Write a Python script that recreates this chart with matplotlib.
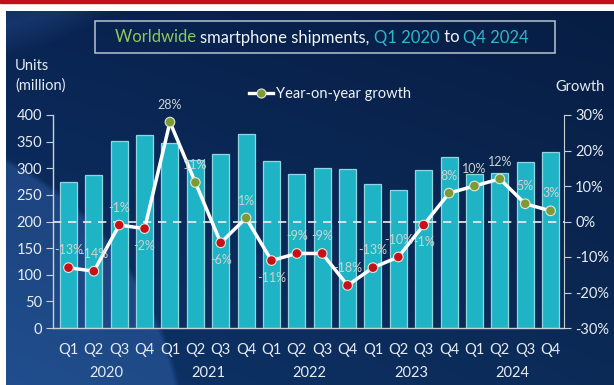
import matplotlib
matplotlib.use('Agg')
import matplotlib.pyplot as plt
import numpy as np
from matplotlib.lines import Line2D

plt.rcParams['font.family'] = ['Lato', 'DejaVu Sans']

# quarterly shipments (million units) and YoY growth (%)
quarters = ['Q1', 'Q2', 'Q3', 'Q4'] * 5
years = ['2020', '2021', '2022', '2023', '2024']
shipments = [274, 287, 351, 362, 348, 315, 327, 365,
             313, 289, 300, 298, 271, 260, 296, 321,
             289, 291, 312, 330]
growth = [-13, -14, -1, -2, 28, 11, -6, 1,
          -11, -9, -9, -18, -13, -10, -1, 8,
          10, 12, 5, 3]
# label above (1) or below (-1) the point
label_side = [1, 1, 1, -1, 1, 1, -1, 1,
              -1, 1, 1, 1, 1, 1, -1, 1,
              1, 1, 1, 1]

W, H = 614, 385
fig = plt.figure(figsize=(W / 100, H / 100), dpi=100)
fig.patch.set_facecolor('white')

# red strip on top
fig.patches.append(plt.Rectangle((0, 1 - 3 / H), 1, 3 / H, transform=fig.transFigure,
                                 color='#c0101a', zorder=0))

# dark blue panel with lighter swooshes
bg = fig.add_axes([6 / W, 0, 1 - 6 / W, 1 - 11 / H])
bg.set_axis_off()
ph, pw = 374, 608
yy, xx = np.mgrid[0:ph, 0:pw].astype(float)
top = np.array([9, 36, 82]) / 255
bot = np.array([14, 52, 106]) / 255
t = (yy / ph)[..., None]
img = top * (1 - t) + bot * t
# darker right side
img *= (1 - 0.18 * (xx / pw))[..., None]
# large light circle lower left
d = np.sqrt((xx + 150) ** 2 + (yy - 440) ** 2)
m = np.clip((330 - d) / 6, 0, 1)[..., None]
img = img * (1 - m) + (img + np.array([0.07, 0.10, 0.14])) * m
# upper-left arc highlight
d2 = np.sqrt((xx + 60) ** 2 + (yy + 260) ** 2)
m2 = np.clip((310 - d2) / 30, 0, 1)[..., None] * np.clip((d2 - 240) / 40, 0, 1)[..., None]
img = img + m2 * np.array([0.05, 0.07, 0.10])
bg.imshow(np.clip(img, 0, 1), aspect='auto', extent=(0, 1, 0, 1))
bg.set_xlim(0, 1)
bg.set_ylim(0, 1)

ax = fig.add_axes([53 / W, 57 / H, 511 / W, 213 / H])
ax.patch.set_alpha(0)
x = np.arange(len(shipments))
ax.bar(x, shipments, width=0.67, color='#1fb3c6', edgecolor='#8fd6df', linewidth=0.9, zorder=2)
ax.set_xlim(-0.61, 19.53)
ax.set_ylim(0, 400)
ax.set_yticks(range(0, 401, 50))
ax.set_xticks(x)
ax.set_xticklabels(quarters)
ax.tick_params(axis='x', length=0, pad=11, labelsize=10.5, labelcolor='#e6ecf2')
ax.tick_params(axis='y', length=5, color='#c8d0d8', labelsize=10.5, labelcolor='#e6ecf2', pad=3)
for s in ['top', 'right']:
    ax.spines[s].set_visible(False)
for s in ['left', 'bottom']:
    ax.spines[s].set_color('#c8d0d8')
    ax.spines[s].set_linewidth(1)

for i, yr in enumerate(years):
    ax.text(4 * i + 1.5, -0.21, yr, transform=ax.get_xaxis_transform(),
            ha='center', va='center', fontsize=10.5, color='#e6ecf2')

ax2 = ax.twinx()
ax2.set_ylim(-30, 30)
ax2.set_yticks(range(-30, 31, 10))
ax2.set_yticklabels([f'{v}%' for v in range(-30, 31, 10)])
ax2.tick_params(axis='y', length=5, color='#c8d0d8', labelsize=10.5, labelcolor='#e6ecf2', pad=3)
for s in ['top', 'left', 'bottom']:
    ax2.spines[s].set_visible(False)
ax2.spines['right'].set_color('#c8d0d8')

ax2.axhline(0, color='#e8eef4', lw=1.2, ls=(0, (5, 4)), zorder=3)
ax2.plot(x, growth, color='white', lw=2.5, zorder=4, solid_joinstyle='round')
pt_colors = ['#7e9a35' if g > 0 else '#c8101a' for g in growth]
ax2.scatter(x, growth, s=48, c=pt_colors, edgecolors='#e4e6d6', linewidths=0.8, zorder=5)
for xi, g, side in zip(x, growth, label_side):
    ax2.annotate(f'{g}%', (xi, g), xytext=(0, 12.5 * side), textcoords='offset points',
                 ha='center', va='center', fontsize=9, color='#cbd3cf', zorder=6)

handle = Line2D([], [], color='white', lw=2.4, marker='o', markersize=6.5,
                markerfacecolor='#7e9a35', markeredgecolor='#e4e6d6', markeredgewidth=0.8)
leg = fig.legend([handle], ['Year-on-year growth'], loc='center',
                 bbox_to_anchor=(330 / W, 1 - 94 / H), frameon=False,
                 fontsize=10.5, handlelength=1.6, handletextpad=0.2)
for txt in leg.get_texts():
    txt.set_color('#f0f4f8')

fig.text(15 / W, 1 - 66 / H, 'Units', fontsize=10.5, color='#e6ecf2', va='center')
fig.text(15 / W, 1 - 86 / H, '(million)', fontsize=10.5, color='#e6ecf2', va='center')
fig.text(605 / W, 1 - 87 / H, 'Growth', fontsize=10.5, color='#e6ecf2', va='center', ha='right')

# title box with coloured parts
fig.patches.append(plt.Rectangle((95 / W, 1 - 53 / H), 460 / W, 32 / H, transform=fig.transFigure,
                                 fill=False, edgecolor='#b8c4d0', lw=1.1, zorder=5))
parts = [('Worldwide ', '#8cc85a'), ('smartphone shipments, ', '#f0f4f8'),
         ('Q1 2020', '#2fb6cc'), (' to ', '#f0f4f8'), ('Q4 2024', '#2fb6cc')]
renderer = fig.canvas.get_renderer()
texts = []
for s, c in parts:
    tx = fig.text(0, 1 - 37.5 / H, s, fontsize=12, color=c, va='center', ha='left')
    texts.append(tx)
widths = [tx.get_window_extent(renderer).width for tx in texts]
start = 322 - sum(widths) / 2
for tx, w in zip(texts, widths):
    tx.set_x(start / W)
    start += w

fig.savefig('out.png', dpi=100, facecolor=fig.get_facecolor())
